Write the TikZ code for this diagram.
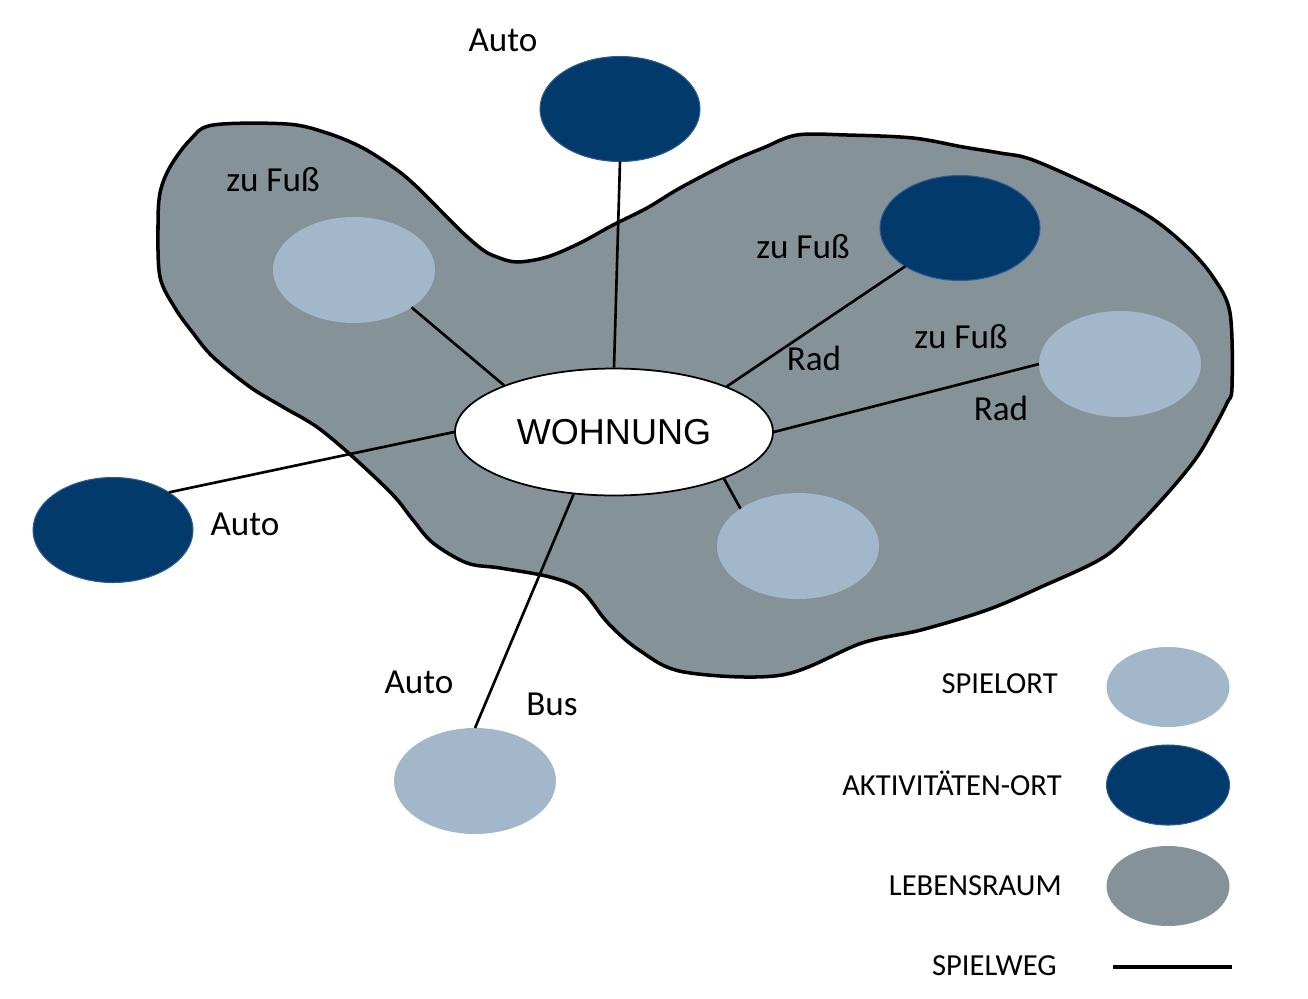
\documentclass[tikz,border=0pt]{standalone}
\usepackage{fontspec}
\setmainfont{Carlito}
\newfontfamily\wohnfont{Liberation Sans}
\usepackage{tikz}
\usetikzlibrary{shapes.geometric}
\definecolor{spielblue}{HTML}{A2B7CA}
\definecolor{aktivblue}{HTML}{023A6B}
\definecolor{aktivedge}{HTML}{2D5A95}
\definecolor{lebensgray}{HTML}{859398}

\begin{document}
\begin{tikzpicture}[
    x=0.02cm, y=-0.02cm,
    spielort/.style={
        ellipse, fill=spielblue, inner sep=0pt, outer sep=0pt,
        minimum width=3.24cm, minimum height=2.12cm
    },
    aktivort/.style={
        ellipse, fill=aktivblue, draw=aktivedge, line width=0.6pt,
        inner sep=0pt, outer sep=0pt,
        minimum width=3.2cm, minimum height=2.1cm
    },
    legendspot/.style={
        ellipse, fill=#1, inner sep=0pt,
        minimum width=2.46cm, minimum height=1.6cm
    },
    weglabel/.style={anchor=base, inner sep=0pt, font=\fontsize{20}{22}\selectfont},
    legendtext/.style={anchor=base east, inner sep=0pt, font=\fontsize{17.4}{19}\selectfont},
    weg/.style={line width=1.5pt}
]
\useasboundingbox (0,0) rectangle (1308,998);

% Lebensraum
\filldraw[fill=lebensgray, draw=black, line width=2pt]
    plot[smooth cycle, tension=0.55] coordinates {
    (213,125) (287,124) (327,133) (363,148) (397,170) (417,187) (440,210)
    (463,233) (483,250) (497,257) (517,262) (547,257) (580,243) (613,225)
    (647,208) (680,188) (730,162) (763,148) (797,135) (847,135) (913,138)
    (963,147) (1000,153) (1033,160) (1100,190) (1150,217) (1187,247)
    (1213,277) (1230,313) (1232,387) (1227,403) (1213,430) (1197,457)
    (1173,487) (1140,523) (1104,557) (1041,587) (987,610) (921,630)
    (862,643) (782,675) (684,672) (639,650) (608,623) (581,590) (550,577)
    (500,568) (467,563) (433,543) (413,520) (393,495)
    (353,457) (317,427) (283,407) (250,387) (213,357) (193,333)
    (175,308) (160,277) (158,227) (160,193) (170,167) (190,140)};

% Orte
\node[ellipse, draw=black, fill=white, line width=1pt, inner sep=0pt,
      minimum width=6.36cm, minimum height=2.54cm,
      font=\wohnfont\fontsize{20.5}{22}\selectfont] (wohnung) at (614,432) {WOHNUNG};

\node[aktivort] (aktivtop) at (620,109) {};
\node[aktivort] (aktivright) at (960,228) {};
\node[aktivort] (aktivleft) at (113,530) {};
\node[spielort] (spielleft) at (354,270) {};
\node[spielort] (spielright) at (1120,364) {};
\node[spielort] (spielmid) at (798,546) {};
\node[spielort] (spielbottom) at (475,781) {};

% Spielwege
\draw[weg] (wohnung.north) -- (aktivtop.south);
\draw[weg] (wohnung.157) -- (spielleft.-33);
\draw[weg] (wohnung.22) -- (aktivright.-145);
\draw[weg] (wohnung.east) -- (spielright.west);
\draw[weg] (wohnung.-23) -- (spielmid.147);
\draw[weg] (wohnung.west) -- (aktivleft.34);
\draw[weg] (wohnung.-123) -- (spielbottom.north);

% Verkehrsmittel
\node[weglabel] (autotop) at (503,51) {Auto};
\node[weglabel] (fussleft) at (273,191) {zu Fuß};
\node[weglabel] (fussmid) at (803,258) {zu Fuß};
\node[weglabel] (radmid) at (814,370) {Rad};
\node[weglabel] (fussright) at (961,348) {zu Fuß};
\node[weglabel] (radright) at (1001,420) {Rad};
\node[weglabel] (autoleft) at (245,535) {Auto};
\node[weglabel] (autobottom) at (419,693) {Auto};
\node[weglabel] (bus) at (552,715) {Bus};

% Legende
\node[legendspot=spielblue] (legspiel) at (1168,687) {};
\node[legendspot=aktivblue, draw=aktivedge, line width=0.6pt] (legaktiv) at (1168,785) {};
\node[legendspot=lebensgray] (leglebens) at (1168,886) {};
\coordinate (legwegA) at (1113,967);
\coordinate (legwegB) at (1232,967);
\draw[line width=1.8pt] (legwegA) -- (legwegB);

\node[legendtext] at (1058,693) {SPIELORT};
\node[legendtext] at (1062,795) {AKTIVITÄTEN-ORT};
\node[legendtext] at (1062,895) {LEBENSRAUM};
\node[legendtext] at (1057,975) {SPIELWEG};

\end{tikzpicture}
\end{document}
